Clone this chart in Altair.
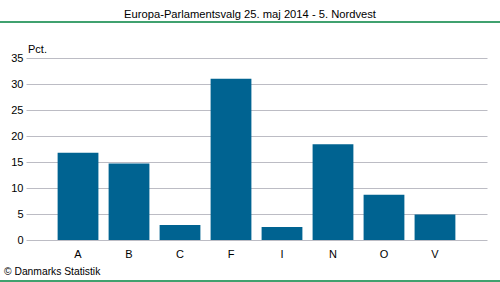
import altair as alt
import pandas as pd

parties = ["A", "B", "C", "F", "I", "N", "O", "V"]
values = [16.8, 14.7, 2.9, 31.0, 2.5, 18.4, 8.7, 4.9]
y_ticks = [0, 5, 10, 15, 20, 25, 30, 35]
title_text = "Europa-Parlamentsvalg 25. maj 2014 - 5. Nordvest"
unit_text = "Pct."
source_text = "© Danmarks Statistik"

df = pd.DataFrame({"parti": parties, "pct": values})

FONT = "Liberation Sans"

bars = alt.Chart(df).mark_bar(color="#006391").encode(
    x=alt.X("parti:N", sort=parties, title=None,
            scale=alt.Scale(paddingInner=0.2, paddingOuter=0.62),
            axis=alt.Axis(labelAngle=0, domain=False, ticks=False, labelPadding=8,
                          labelFont=FONT, labelFontSize=11, labelColor="#000000")),
    y=alt.Y("pct:Q", title=None,
            scale=alt.Scale(domain=[0, 35], nice=False),
            axis=alt.Axis(values=y_ticks, domain=False, ticks=False, labelPadding=3,
                          gridColor="#bcbcc4", gridWidth=1, gridOpacity=1,
                          labelFont=FONT, labelFontSize=11, labelColor="#000000")),
)

title = alt.Chart(pd.DataFrame({"t": [title_text]})).mark_text(
    font=FONT, fontSize=11.2, color="#000000", align="center", baseline="middle").encode(
    x=alt.value(224), y=alt.value(-43), text="t:N")

unit = alt.Chart(pd.DataFrame({"t": [unit_text]})).mark_text(
    font=FONT, fontSize=11, color="#000000", align="left", baseline="middle").encode(
    x=alt.value(2), y=alt.value(-8), text="t:N")

source = alt.Chart(pd.DataFrame({"t": [source_text]})).mark_text(
    font=FONT, fontSize=10.3, color="#000000", align="left", baseline="middle").encode(
    x=alt.value(-22), y=alt.value(214), text="t:N")

top_line = alt.Chart(pd.DataFrame({"a": [0]})).mark_rule(color="#00823f", strokeWidth=1.5).encode(
    x=alt.value(-26), x2=alt.value(474), y=alt.value(-36))

bottom_line = alt.Chart(pd.DataFrame({"a": [0]})).mark_rule(color="#00823f", strokeWidth=1.5).encode(
    x=alt.value(-26), x2=alt.value(474), y=alt.value(223))

chart = alt.layer(bars, title, unit, source, top_line, bottom_line).properties(
    width=461, height=182,
    autosize=alt.AutoSizeParams(type="none"),
    padding={"left": 26, "top": 58, "right": 13, "bottom": 42},
    background="#ffffff",
).configure_view(stroke=None)

chart.save("out.html", embed_options={"renderer": "svg", "actions": False})
